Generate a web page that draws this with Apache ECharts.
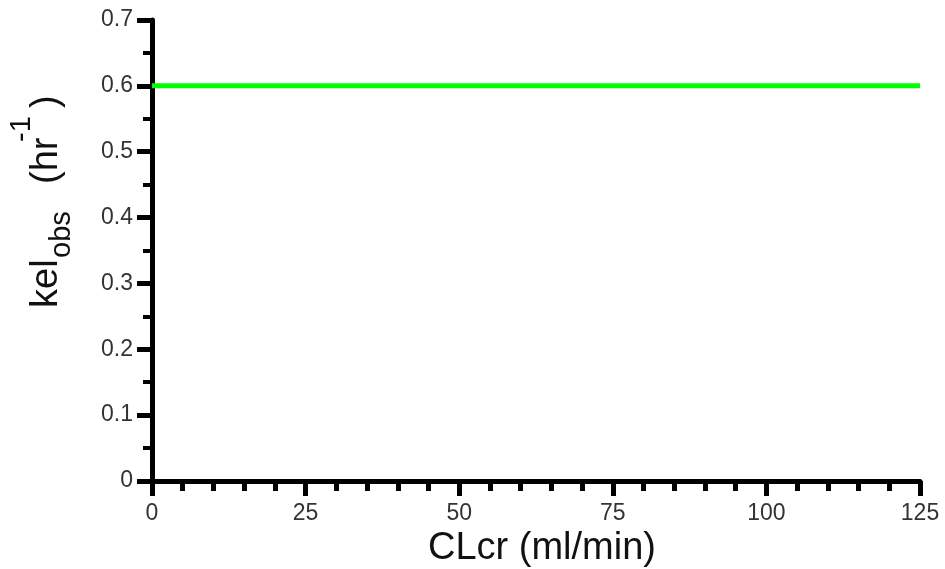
<!DOCTYPE html>
<html><head><meta charset="utf-8">
<script src="https://cdn.jsdelivr.net/npm/echarts@6/dist/echarts.min.js"></script>
<style>html,body{margin:0;padding:0;background:#fff}#c{width:945px;height:569px}</style>
</head><body><div id="c"></div>
<script>
// Data
const clcr = [0, 125];
const kelObs = [0.6, 0.6];
const xTicks = [0, 25, 50, 75, 100, 125];
const yTicks = [0, 0.1, 0.2, 0.3, 0.4, 0.5, 0.6, 0.7];
const xTitle = 'CLcr (ml/min)';
const yTitleParts = ['kel', 'obs', '(hr', '-1', ')'];

const FF = "'Liberation Sans', Arial, Helvetica, sans-serif";
const chart = echarts.init(document.getElementById('c'), null, {renderer: 'canvas'});

function mid(baseline, fs) { return baseline - 0.35 * fs; }

const option = {
  animation: false,
  backgroundColor: '#fff',
  grid: {left: 152, right: 25, top: 20, bottom: 88, containLabel: false, outerBoundsMode: 'none'},
  xAxis: {
    type: 'value',
    min: xTicks[0], max: xTicks[xTicks.length - 1], interval: xTicks[1] - xTicks[0],
    axisLine: {onZero: false, lineStyle: {color: '#000', width: 5}},
    axisTick: {length: 15, lineStyle: {color: '#000', width: 5}},
    minorTick: {show: true, splitNumber: 5, length: 10, lineStyle: {color: '#000', width: 5}},
    axisLabel: {margin: 21, fontSize: 23, color: '#333', fontFamily: FF},
    splitLine: {show: false}, minorSplitLine: {show: false},
    name: xTitle, nameLocation: 'middle', nameGap: 49,
    nameTextStyle: {fontSize: 38, color: '#111', fontFamily: FF, padding: [0, 0, 0, 12]}
  },
  yAxis: {
    type: 'value',
    min: yTicks[0], max: yTicks[yTicks.length - 1], interval: yTicks[1] - yTicks[0],
    axisLine: {onZero: false, lineStyle: {color: '#000', width: 5}},
    axisTick: {length: 15, lineStyle: {color: '#000', width: 5}},
    minorTick: {show: true, splitNumber: 2, length: 9, lineStyle: {color: '#000', width: 4}},
    axisLabel: {margin: 19, fontSize: 23, color: '#333', fontFamily: FF},
    splitLine: {show: false}, minorSplitLine: {show: false}
  },
  series: [{
    type: 'line',
    data: clcr.map((x, i) => [x, kelObs[i]]),
    symbol: 'none',
    lineStyle: {color: '#00ff00', width: 5},
    z: 3
  }],
  graphic: [{
    type: 'group', x: 60, y: 308, rotation: Math.PI / 2,
    children: [
      {type: 'text', x: 0, y: mid(0, 38), style: {text: yTitleParts[0], fontSize: 38, fontFamily: FF, fill: '#111', verticalAlign: 'middle', align: 'left'}},
      {type: 'text', x: 50, y: mid(12, 29), style: {text: yTitleParts[1], fontSize: 29, fontFamily: FF, fill: '#111', verticalAlign: 'middle', align: 'left'}},
      {type: 'text', x: 124, y: mid(0, 38), style: {text: yTitleParts[2], fontSize: 38, fontFamily: FF, fill: '#111', verticalAlign: 'middle', align: 'left'}},
      {type: 'text', x: 166, y: mid(-28, 29), style: {text: yTitleParts[3], fontSize: 29, fontFamily: FF, fill: '#111', verticalAlign: 'middle', align: 'left'}},
      {type: 'text', x: 200, y: mid(0, 38), style: {text: yTitleParts[4], fontSize: 38, fontFamily: FF, fill: '#111', verticalAlign: 'middle', align: 'left'}}
    ]
  }]
};
chart.setOption(option);
</script>
</body></html>
